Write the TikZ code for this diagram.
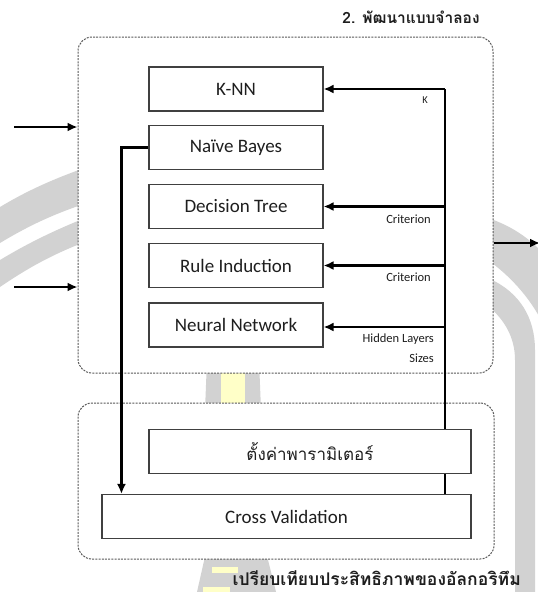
\documentclass[tikz,border=0pt]{standalone}
\usepackage{fontspec}
\setmainfont{Carlito}
\newfontfamily\thai[Script=Thai]{Loma}
\usetikzlibrary{arrows.meta}
\definecolor{wmgray}{RGB}{210,210,210}
\definecolor{wmyellow}{RGB}{255,255,200}
\definecolor{ink}{RGB}{30,30,30}
\begin{document}
\begin{tikzpicture}[x=1pt,y=-1pt,
  algbox/.style={draw=black!75, line width=1.1pt, fill=white, minimum width=174pt,
    minimum height=44pt, inner sep=0pt, text=ink, font=\fontsize{19}{22}\selectfont},
  groupbox/.style={draw=black!65, dash pattern=on 2pt off 1.2pt, line width=1pt,
    rounded corners=14pt, fill=white, inner sep=0pt},
  conn/.style={line width=2.7pt, -{Latex[length=10pt,width=9pt]}},
  bus/.style={line width=2.7pt},
  param/.style={text=ink, font=\fontsize{12.5}{14}\selectfont, inner sep=0pt},
  heading/.style={text=ink, inner sep=0pt, text depth=0pt},
]
\useasboundingbox (0,0) rectangle (538,592);

% faint emblem in the background
\fill[wmgray] (0,207) .. controls (25,192) and (50,180) .. (90,166)
  -- (90,202) .. controls (50,215) and (25,228) .. (0,243) -- cycle;
\fill[wmgray] (0,260) .. controls (25,245) and (50,232) .. (90,216)
  -- (90,240) .. controls (50,255) and (25,270) .. (0,287) -- cycle;
\fill[wmgray] (488,218) .. controls (512,226) and (528,238) .. (540,250)
  -- (540,318) .. controls (528,296) and (510,276) .. (488,260) -- cycle;
\fill[wmgray] (488,278) .. controls (520,292) and (535,318) .. (535,350)
  -- (535,592) -- (515,592) -- (515,360) .. controls (515,338) and (505,320) .. (488,306) -- cycle;
\fill[wmgray] (207,360) -- (259,360) -- (261,410) -- (205,410) -- cycle;
\fill[wmyellow] (221,360) rectangle (245,410);
\fill[wmgray] (206,552) -- (266,552) -- (276,592) -- (197,592) -- cycle;
\fill[wmyellow] (212,567) rectangle (238,573);
\fill[wmyellow] (203,587) rectangle (230,592);

% the two stages
\node[groupbox, minimum width=415pt, minimum height=336pt] (model) at (285.5,205) {};
\node[groupbox, minimum width=416pt, minimum height=156pt] (compare) at (286,481) {};
\node[heading, anchor=base, font=\thai\bfseries\fontsize{15.5}{18}\selectfont] (title) at (411,23) {2. พัฒนาแบบจำลอง};
\node[heading, anchor=base east, font=\thai\bfseries\fontsize{17.5}{20}\selectfont] (subtitle) at (521,585) {เปรียบเทียบประสิทธิภาพของอัลกอริทึม};

% algorithms
\node[algbox] (knn) at (236,89) {K-NN};
\node[algbox] (nb) at (236,147.5) {Naïve Bayes};
\node[algbox] (dt) at (236,206.5) {Decision Tree};
\node[algbox] (ri) at (236,265.5) {Rule Induction};
\node[algbox] (nn) at (236,325) {Neural Network};
\node[algbox, minimum width=369pt] (cv) at (286.5,516.5) {Cross Validation};

% inputs and output
\coordinate (in1) at (14,127);
\coordinate (in2) at (14,287);
\coordinate (out) at (540,243);
\draw[conn] (in1) -- (in1 -| model.west);
\draw[conn] (in2) -- (in2 -| model.west);
\draw[conn] (out -| model.east) -- (out);

% parameter bus
\coordinate (busx) at (445,0);
\draw[bus] (cv.north -| busx) -- (busx |- knn.east);
\draw[conn] (busx |- knn.east) -- (knn.east);
\draw[conn] (busx |- dt.east) -- (dt.east);
\draw[conn] (busx |- ri.east) -- (ri.east);
\draw[conn] ([yshift=-2pt]busx |- nn.east) -- ([yshift=-2pt]nn.east);

% model under evaluation
\draw[conn] (nb.west) -| ([xshift=-27pt]nb.west |- cv.north);

\node[algbox, minimum width=322pt, font=\thai\fontsize{17}{20}\selectfont] (ps) at (310,451.5) {ตั้งค่าพารามิเตอร์};

% parameter labels
\node[param, anchor=east, font=\fontsize{10.5}{12}\selectfont] (lk) at (428,100) {K};
\node[param, anchor=east] (lc1) at (431,219) {Criterion};
\node[param, anchor=east] (lc2) at (431,277) {Criterion};
\node[param, anchor=east] (lh) at (434,339) {Hidden Layers};
\node[param, anchor=east] (ls) at (434,358) {Sizes};
\end{tikzpicture}
\end{document}
